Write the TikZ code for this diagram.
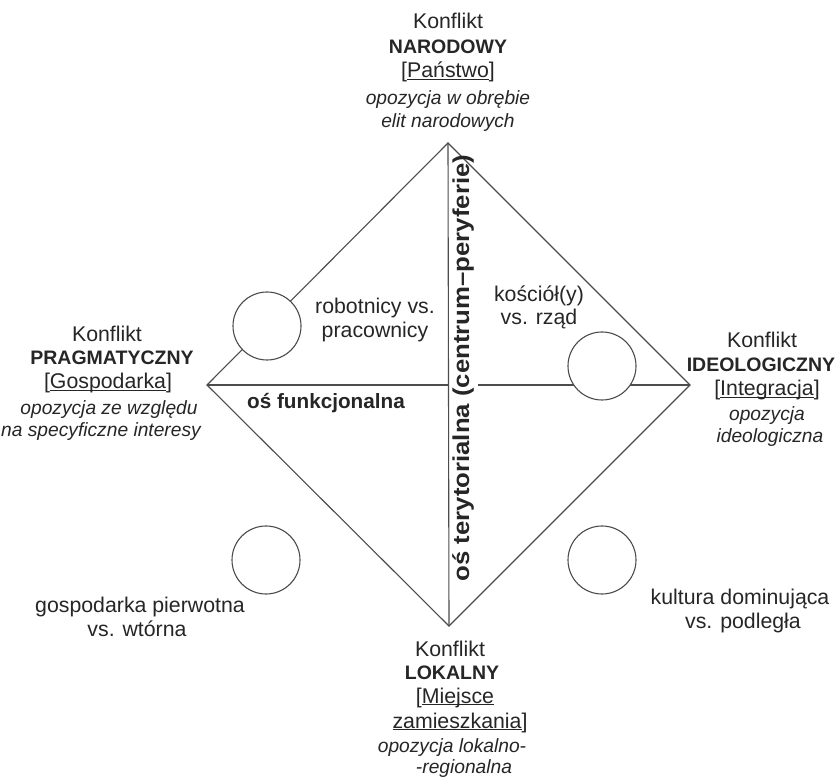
\documentclass[tikz,border=0pt]{standalone}
\usepackage{fontspec}
\setmainfont{Liberation Sans}
\newcommand{\ulx}[1]{\underline{\smash{#1}}}
\begin{document}
\begin{tikzpicture}[x=1pt,y=-1pt,
  txt/.style={anchor=base, inner sep=0pt, text=black!85, font=\fontsize{21.3}{24}\selectfont},
  bt/.style={txt, font=\fontsize{19.5}{24}\selectfont\bfseries},
  it/.style={txt, font=\fontsize{19.2}{24}\selectfont\itshape},
  edge/.style={draw=black!70, line width=1.1pt},
  ring/.style={circle, draw=black!70, line width=1.1pt, fill=white, minimum size=68pt, inner sep=0pt}]
\useasboundingbox (0,0) rectangle (836,783);
\fill[white] (0,0) rectangle (836,783);
% diamond
\coordinate (T) at (448,143);
\coordinate (R) at (690,385);
\coordinate (B) at (449,626);
\coordinate (L) at (207,385);
\coordinate (C) at (448,385);
\coordinate (C2) at (478,385);
\draw[edge] (T) -- (R) -- (B) -- (L) -- cycle;
\draw[edge] (T) -- (B);
\draw[edge] (L) -- (C);
\draw[edge] (C2) -- (R);
% circles
\node[ring] (c1) at (267,326) {};
\node[ring] (c2) at (602,366) {};
\node[ring] (c3) at (266,560) {};
\node[ring] (c4) at (602,560) {};
% axis labels
\node[bt, anchor=center, rotate=90, font=\fontsize{23}{28}\selectfont\bfseries] (vax) at (463,368) {\scalebox{1.12}[1]{oś terytorialna (centrum–peryferie)}};
\node[bt, font=\fontsize{20.7}{24}\selectfont\bfseries] (hax) at (326,409) {oś funkcjonalna};
% top
\node[txt] (t1) at (448,29) {Konflikt};
\node[bt] (t2) at (448,54) {NARODOWY};
\node[txt] (t3) at (448,78) {[\ulx{Państwo}]};
\node[it] (t4) at (448,105) {opozycja w obrębie};
\node[it] (t5) at (448,128) {elit narodowych};
% left
\node[txt] (l1) at (107,342) {Konflikt};
\node[bt] (l2) at (112,365) {PRAGMATYCZNY};
\node[txt] (l3) at (108,389) {[\ulx{Gospodarka}]};
\node[it] (l4) at (109,415) {opozycja ze względu};
\node[it] (l5) at (101,437) {na specyficzne interesy};
% right
\node[txt] (r1) at (762,348) {Konflikt};
\node[bt] (r2) at (761,372) {IDEOLOGICZNY};
\node[txt] (r3) at (767,396) {[\ulx{Integracja}]};
\node[it] (r4) at (767,421) {opozycja};
\node[it] (r5) at (770,443) {ideologiczna};
% bottom
\node[txt] (b1) at (450,656) {Konflikt};
\node[bt] (b2) at (452,679) {LOKALNY};
\node[txt] (b3) at (455,703) {[\ulx{Miejsce}};
\node[txt] (b4) at (460,728) {\ulx{zamieszkania}]};
\node[it] (b5) at (452,752) {opozycja lokalno-};
\node[it] (b6) at (464,773) {-regionalna};
% quadrant texts
\node[txt] (q1a) at (375,314) {robotnicy vs.};
\node[txt] (q1b) at (375,338) {pracownicy};
\node[txt] (q2a) at (539,302) {kościół(y)};
\node[txt] (q2b) at (539,325) {vs. rząd};
\node[txt] (q3a) at (140,612) {gospodarka pierwotna};
\node[txt] (q3b) at (137,636) {vs. wtórna};
\node[txt] (q4a) at (740,605) {kultura dominująca};
\node[txt] (q4b) at (743,628) {vs. podległa};
\end{tikzpicture}
\end{document}
